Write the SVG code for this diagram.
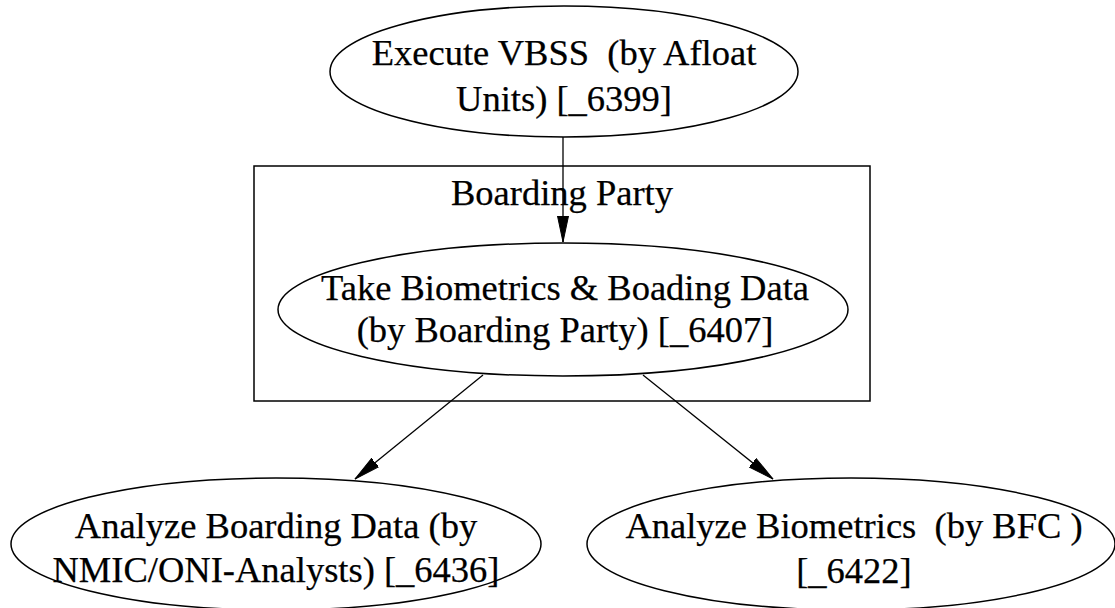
<svg xmlns="http://www.w3.org/2000/svg" width="1115" height="608" viewBox="0 0 1115 608">
<style>
  .bg { fill: #ffffff; }
  .node ellipse { fill: none; stroke: #000; stroke-width: 1.5; }
  .cluster rect { fill: none; stroke: #000; stroke-width: 1.5; }
  text { font-family: "Liberation Serif", "Times New Roman", serif; font-size: 36.5px; fill: #000; stroke: #000; stroke-width: 0.25; text-anchor: middle; white-space: pre; }
  .edges line { stroke: #000; stroke-width: 1.3; marker-end: url(#arrow); }
</style>
<defs>
  <marker id="arrow" markerUnits="userSpaceOnUse" markerWidth="28" markerHeight="14" refX="26" refY="6" orient="auto">
    <path d="M0,0.5 L26,6 L0,11.5 Z" fill="#000" stroke="#000" stroke-width="1"/>
  </marker>
</defs>
<rect class="bg" x="0" y="0" width="1115" height="608"/>
<g id="cluster_boarding_party" class="cluster">
  <rect x="254" y="166" width="616" height="235"/>
  <text x="562" y="205">Boarding Party</text>
</g>
<g id="node_6399" class="node">
  <ellipse cx="564" cy="71.5" rx="234" ry="65.5"/>
  <text x="564" y="65" xml:space="preserve">Execute VBSS  (by Afloat</text>
  <text x="564" y="111">Units) [_6399]</text>
</g>
<g id="node_6407" class="node">
  <ellipse cx="563" cy="309.5" rx="285" ry="66.5"/>
  <text x="565" y="300">Take Biometrics &amp; Boading Data</text>
  <text x="565" y="342">(by Boarding Party) [_6407]</text>
</g>
<g id="node_6436" class="node">
  <ellipse cx="276" cy="544" rx="265" ry="66"/>
  <text x="276" y="538">Analyze Boarding Data (by</text>
  <text x="276" y="582">NMIC/ONI-Analysts) [_6436]</text>
</g>
<g id="node_6422" class="node">
  <ellipse cx="851" cy="544" rx="264" ry="66"/>
  <text x="854" y="538" xml:space="preserve">Analyze Biometrics  (by BFC )</text>
  <text x="854" y="583">[_6422]</text>
</g>
<g id="edges" class="edges">
  <line x1="563" y1="137" x2="563" y2="242"/>
  <line x1="483" y1="375" x2="355" y2="479"/>
  <line x1="643" y1="375" x2="773" y2="479"/>
</g>
</svg>
